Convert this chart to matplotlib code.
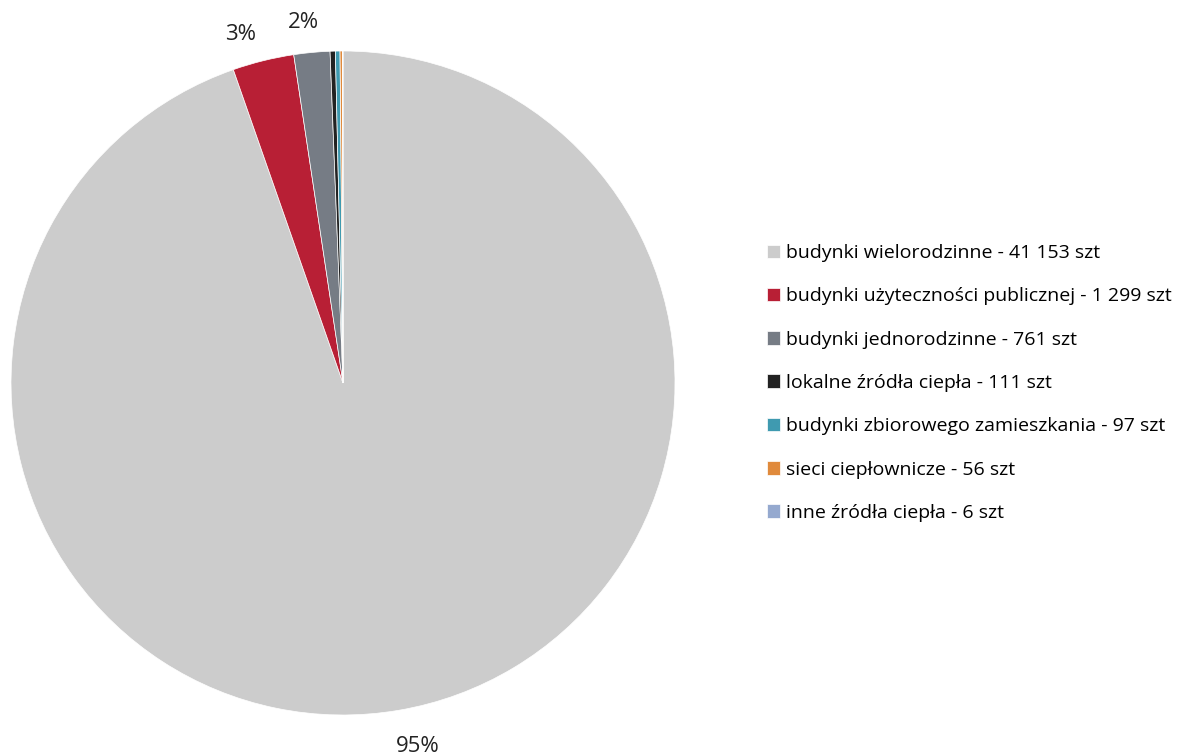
import matplotlib
matplotlib.use("Agg")
import matplotlib.pyplot as plt
from matplotlib.transforms import offset_copy

labels = ["budynki wielorodzinne - 41 153 szt",
          "budynki użyteczności publicznej - 1 299 szt",
          "budynki jednorodzinne - 761 szt",
          "lokalne źródła ciepła - 111 szt",
          "budynki zbiorowego zamieszkania - 97 szt",
          "sieci ciepłownicze - 56 szt",
          "inne źródła ciepła - 6 szt"]
counts = [41153, 1299, 761, 111, 97, 56, 6]
colors = ["#cccccc", "#b81f35", "#767c85", "#222222", "#3f9ab0", "#e08a3c", "#95a9cf"]

plt.rcParams["font.family"] = ["Open Sans", "DejaVu Sans"]

fig = plt.figure(figsize=(11.8, 7.56), dpi=100)
ax = fig.add_axes([11 / 1180, 41 / 756, 664 / 1180, 664 / 756])


def pct_label(p):
    return f"{p:.0f}%" if p >= 1 else ""


wedges, texts, autotexts = ax.pie(counts, colors=colors, startangle=90, counterclock=False,
                                  autopct=pct_label, pctdistance=1.11,
                                  wedgeprops=dict(edgecolor="white", linewidth=0.5),
                                  textprops=dict(fontsize=16, color="#222222"))
ax.set_xlim(-1, 1)
ax.set_ylim(-1, 1)
ax.set_aspect("equal")

# nudge the outside labels to where Excel put them (pixels)
nudges = {0: (13, 0), 1: (-14, -9), 2: (-5, -6)}
for i, (dx, dy) in nudges.items():
    autotexts[i].set_transform(offset_copy(autotexts[i].get_transform(), fig=fig,
                                           x=dx, y=dy, units="dots"))

fig.legend(wedges, labels, loc="center left", bbox_to_anchor=(757 / 1180, 1 - 383 / 756),
           frameon=False, fontsize=14, handlelength=0.7, handleheight=0.7,
           handletextpad=0.3, labelspacing=1.3, borderpad=0)

fig.savefig("out.png", dpi=100)
